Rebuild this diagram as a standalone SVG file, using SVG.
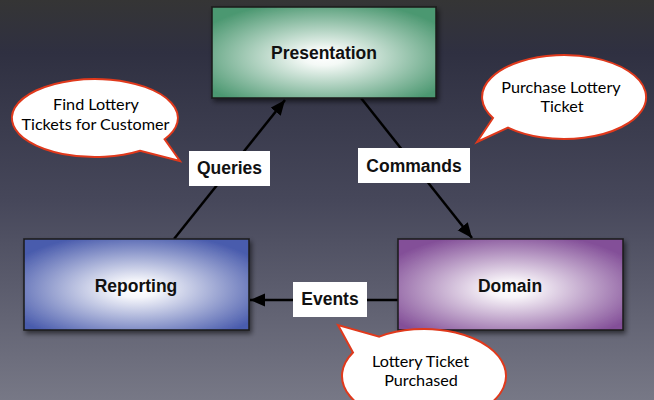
<svg xmlns="http://www.w3.org/2000/svg" width="654" height="400" viewBox="0 0 654 400">
<defs>
<linearGradient id="bg" x1="0" y1="0" x2="0" y2="1">
<stop offset="0" stop-color="#353535"/>
<stop offset="0.13" stop-color="#2f3041"/>
<stop offset="0.5" stop-color="#46475a"/>
<stop offset="1" stop-color="#777886"/>
</linearGradient>
<radialGradient id="gGreen" cx="0.5" cy="0.55" r="0.62">
<stop offset="0" stop-color="#ffffff"/>
<stop offset="0.15" stop-color="#f4f9f6"/>
<stop offset="1" stop-color="#4c9871"/>
</radialGradient>
<radialGradient id="gBlue" cx="0.5" cy="0.55" r="0.62">
<stop offset="0" stop-color="#ffffff"/>
<stop offset="0.15" stop-color="#f5f6fb"/>
<stop offset="1" stop-color="#4a5cad"/>
</radialGradient>
<radialGradient id="gPurple" cx="0.5" cy="0.55" r="0.62">
<stop offset="0" stop-color="#ffffff"/>
<stop offset="0.15" stop-color="#f8f4f9"/>
<stop offset="1" stop-color="#834f98"/>
</radialGradient>
<filter id="shadow" x="-10%" y="-10%" width="125%" height="130%">
<feDropShadow dx="2" dy="3" stdDeviation="2.5" flood-color="#000" flood-opacity="0.55"/>
</filter>
<marker id="arrow" markerUnits="userSpaceOnUse" markerWidth="16" markerHeight="14" refX="15" refY="6.5" orient="auto">
<path d="M0,0 L15,6.5 L0,13 Z" fill="#000"/>
</marker>
</defs>
<style>
.box{stroke:#1a1a1a;stroke-width:1.5;filter:url(#shadow);}
.title{font-family:"Liberation Sans",Arial,sans-serif;font-weight:bold;font-size:17.5px;fill:#111;text-anchor:middle;}
.lbl{fill:#fff;}
.conn{stroke:#000;stroke-width:2.5;fill:none;marker-end:url(#arrow);}
.bubble{fill:#fff;stroke:#e0391c;stroke-width:2;}
.btxt{font-family:Lato,"Open Sans",sans-serif;font-size:16.2px;fill:#000;text-anchor:middle;}
</style>
<rect x="0" y="0" width="654" height="400" fill="url(#bg)"/>

<g id="connectors">
<line class="conn" x1="174" y1="239" x2="285" y2="100"/>
<line class="conn" x1="361" y1="98" x2="472" y2="238"/>
<line class="conn" x1="398" y1="300" x2="250" y2="300"/>
<g id="label-queries">
<rect class="lbl" x="189" y="151" width="81" height="35"/>
<text class="title" x="229.5" y="174">Queries</text>
</g>
<g id="label-commands">
<rect class="lbl" x="358" y="148" width="112" height="35"/>
<text class="title" x="414" y="172">Commands</text>
</g>
<g id="label-events">
<rect class="lbl" x="293" y="282" width="74" height="35"/>
<text class="title" x="330" y="305">Events</text>
</g>
</g>

<g id="presentation">
<rect class="box" x="212" y="7" width="224" height="91" fill="url(#gGreen)"/>
<text class="title" x="324" y="59">Presentation</text>
</g>
<g id="reporting">
<rect class="box" x="24" y="239" width="225" height="91" fill="url(#gBlue)"/>
<text class="title" x="136" y="292">Reporting</text>
</g>
<g id="domain">
<rect class="box" x="398" y="239" width="225" height="91" fill="url(#gPurple)"/>
<text class="title" x="510" y="292">Domain</text>
</g>

<g id="bubble-find">
<path class="bubble" d="M164.6,139.2 A83,39 0 1 0 140.2,150.7 L180,161 Z"/>
<text class="btxt" x="96" y="110">Find Lottery</text>
<text class="btxt" x="95.5" y="130">Tickets for Customer</text>
</g>
<g id="bubble-purchase">
<path class="bubble" d="M493,118 A82,42 0 1 1 508,127.7 L477,142 Z"/>
<text class="btxt" x="561" y="93">Purchase Lottery</text>
<text class="btxt" x="562" y="112">Ticket</text>
</g>
<g id="bubble-purchased">
<path class="bubble" d="M379.3,336.6 A82,47 0 1 1 353,352.5 L338,325 Z"/>
<text class="btxt" x="420.5" y="367">Lottery Ticket</text>
<text class="btxt" x="421" y="386">Purchased</text>
</g>
</svg>
